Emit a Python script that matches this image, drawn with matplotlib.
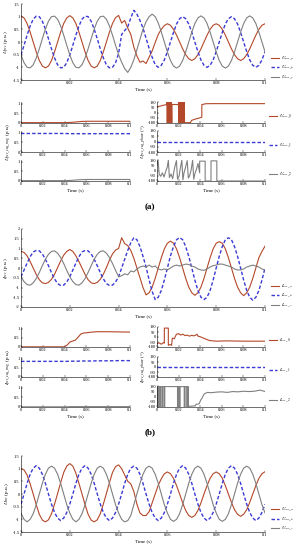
import numpy as np
import matplotlib
matplotlib.use('Agg')
import matplotlib.pyplot as plt
from matplotlib.ticker import FuncFormatter

plt.rcParams['font.family'] = ['Liberation Serif', 'DejaVu Serif']
plt.rcParams['mathtext.fontset'] = 'stix'
plt.rcParams['axes.unicode_minus'] = False

W, H = 299, 550
RED = '#b4482a'
BLUE = '#3a3ad4'
GRAY = '#808080'

# ---- (a) PCC voltage, sampled every 1.25 ms ----
t = np.linspace(0, 0.1, 81)
ua_pcc = [1.03, 0.95, 0.73, 0.39, 0.00, -0.39, -0.73, -0.95, -1.02, -0.95, -0.73, -0.39, 0.00, 0.39, 0.73, 0.95,
          1.04, 0.95, 0.73, 0.39, 0.00, -0.39, -0.73, -0.95, -1.02, -0.95, -0.73, -0.39, 0.00, 0.39, 0.73, 0.96,
          1.05, 0.75, 0.85, 0.55, 0.30, -0.20, -0.55, -0.80, -0.75, -0.85, -0.60, -0.35, -0.02, 0.30, 0.50, 0.65,
          0.72, 0.66, 0.50, 0.27, 0.00, -0.27, -0.50, -0.66, -0.73, -0.66, -0.50, -0.27, 0.00, 0.27, 0.50, 0.66,
          0.72, 0.66, 0.50, 0.27, 0.00, -0.27, -0.50, -0.66, -0.73, -0.66, -0.50, -0.27, 0.00, 0.27, 0.50, 0.66,
          0.72]
ub_pcc = [-0.51, -0.13, 0.27, 0.63, 0.90, 1.02, 1.00, 0.82, 0.51, 0.13, -0.27, -0.63, -0.90, -1.02, -1.00, -0.82,
          -0.51, -0.13, 0.27, 0.63, 0.90, 1.02, 1.00, 0.82, 0.51, 0.13, -0.27, -0.63, -0.90, -1.02, -1.00, -0.82,
          -0.45, 0.30, 0.45, 0.60, 0.95, 1.25, 1.10, 0.85, 0.55, 0.15, -0.25, -0.60, -0.90, -1.00, -0.92, -0.71,
          -0.38, 0.00, 0.38, 0.71, 0.92, 1.00, 0.92, 0.71, 0.38, 0.00, -0.38, -0.71, -0.92, -1.00, -0.92, -0.71,
          -0.38, 0.00, 0.38, 0.71, 0.92, 1.00, 0.92, 0.71, 0.38, 0.00, -0.38, -0.71, -0.92, -1.00, -0.92, -0.71,
          -0.38]
uc_pcc = [-0.51, -0.82, -1.00, -1.02, -0.90, -0.63, -0.27, 0.13, 0.51, 0.82, 1.00, 1.02, 0.90, 0.63, 0.27, -0.13,
          -0.51, -0.82, -1.00, -1.02, -0.90, -0.63, -0.27, 0.13, 0.51, 0.82, 1.00, 1.02, 0.90, 0.63, 0.27, -0.13,
          -0.50, -0.80, -1.05, -1.20, -1.00, -0.70, -0.30, 0.10, 0.50, 0.80, 1.00, 1.10, 1.00, 0.75, 0.40, 0.00,
          -0.39, -0.73, -0.95, -1.03, -0.95, -0.73, -0.39, 0.00, 0.39, 0.73, 0.95, 1.03, 0.95, 0.73, 0.39, 0.00,
          -0.39, -0.73, -0.95, -1.03, -0.95, -0.73, -0.39, 0.00, 0.39, 0.73, 0.95, 1.03, 0.95, 0.73, 0.39, 0.00,
          -0.39]

# sequence magnitudes (a)
seq_t_a = [0, 0.01, 0.02, 0.03, 0.04, 0.045, 0.05, 0.055, 0.06, 0.07, 0.08, 0.09, 0.1]
u0_mag = [0.02, 0.02, 0.02, 0.02, 0.02, 0.03, 0.05, 0.08, 0.09, 0.09, 0.09, 0.09, 0.09]
u1_mag = [0.97, 0.97, 0.97, 0.97, 0.97, 0.96, 0.96, 0.96, 0.96, 0.96, 0.96, 0.96, 0.96]
u2_mag = [0.02, 0.02, 0.02, 0.02, 0.02, 0.03, 0.05, 0.07, 0.08, 0.08, 0.08, 0.08, 0.08]

# sequence phases (a)
u0_ph_t = [0, 0.003, 0.006, 0.009,
           0.0092, 0.0095, 0.0098, 0.0101, 0.0104, 0.0107, 0.0110, 0.0113, 0.0116, 0.0119, 0.0122, 0.0125,
           0.0128, 0.0131, 0.0134, 0.0137,
           0.0138, 0.016, 0.0198,
           0.0200, 0.0203, 0.0206, 0.0209, 0.0212, 0.0215, 0.0218, 0.0221, 0.0224, 0.0227, 0.0230, 0.0233,
           0.0236, 0.0239, 0.0242, 0.0245, 0.0248, 0.0251, 0.0254,
           0.0255, 0.031, 0.032, 0.036, 0.040, 0.0415, 0.0415, 0.045, 0.05, 0.1]
u0_ph = [98, 110, 125, 135,
         180, -180, 180, -180, 180, -180, 180, -180, 180, -180, 180, -180,
         180, -180, 180, -180,
         135, 138, 135,
         180, -180, 180, -180, 180, -180, 180, -180, 180, -180, 180, -180,
         180, -180, 180, -180, 180, -180, 180,
         -176, -172, -135, -110, -90, -80, 135, 150, 152, 152]
u1_ph_t = [0, 0.1]
u1_ph = [0, 0]
u2_ph_t = [0, 0.001, 0.002, 0.0035, 0.005, 0.0065, 0.008, 0.0095, 0.0105, 0.0115, 0.013, 0.0145, 0.016,
           0.017, 0.018, 0.019, 0.0205, 0.0215, 0.023, 0.024, 0.025, 0.0265, 0.028, 0.029, 0.030, 0.0315,
           0.033, 0.034, 0.035, 0.0365, 0.038, 0.0395, 0.0395, 0.0446, 0.0446, 0.050, 0.050, 0.0554, 0.0554, 0.1]
u2_ph = [120, 170, -60, -100, -40, -110, -20, 60, 175, -120, -60, -140, 20,
         100, 170, -150, -90, 30, 175, -160, -40, 60, 170, -130, -100, 0,
         175, -150, -60, 20, 120, -40, 160, 160, -180, -180, 165, 165, -180, -180]

# ---- (b) PCC current ----
ia_pcc = [0.85, 0.80, 0.62, 0.33, 0.00, -0.33, -0.60, -0.76, -0.80, -0.74, -0.58, -0.32, 0.02, 0.36, 0.66, 0.85,
          0.95, 0.85, 0.62, 0.33, 0.00, -0.33, -0.60, -0.76, -0.80, -0.74, -0.58, -0.32, 0.02, 0.40, 0.72, 0.92,
          1.00, 1.55, 1.25, 1.15, 0.90, 0.50, 0.00, -0.50, -1.00, -1.38, -1.27, -0.98, -0.53, 0.00, 0.53, 0.98,
          1.27, 1.38, 1.27, 0.98, 0.53, 0.00, -0.53, -0.98, -1.27, -1.40, -1.27, -0.98, -0.53, 0.00, 0.53, 0.98,
          1.27, 1.35, 1.27, 0.98, 0.53, 0.00, -0.53, -0.98, -1.27, -1.42, -1.27, -0.98, -0.53, 0.00, 0.53, 0.85,
          1.12]
ib_pcc = [-0.45, -0.10, 0.25, 0.58, 0.82, 0.90, 0.88, 0.72, 0.45, 0.12, -0.24, -0.56, -0.80, -0.90, -0.88, -0.72,
          -0.45, -0.10, 0.25, 0.58, 0.82, 0.90, 0.88, 0.72, 0.45, 0.12, -0.24, -0.56, -0.80, -0.90, -0.88, -0.72,
          -0.45, 0.00, 0.45, 0.90, 1.30, 1.55, 1.45, 1.10, 0.60, 0.05, -0.60, -1.20, -1.62, -1.50, -1.15, -0.62,
          0.00, 0.62, 1.10, 1.45, 1.56, 1.45, 1.10, 0.60, 0.00, -0.62, -1.15, -1.50, -1.62, -1.50, -1.15, -0.62,
          0.00, 0.60, 1.10, 1.45, 1.55, 1.45, 1.10, 0.60, 0.00, -0.62, -1.15, -1.50, -1.65, -1.50, -1.15, -0.62,
          0.00]
ic_pcc = [-0.45, -0.70, -0.85, -0.88, -0.76, -0.54, -0.23, 0.12, 0.45, 0.70, 0.85, 0.88, 0.76, 0.54, 0.23, -0.12,
          -0.45, -0.70, -0.85, -0.88, -0.76, -0.54, -0.23, 0.12, 0.45, 0.70, 0.85, 0.88, 0.76, 0.54, 0.23, -0.12,
          -0.45, -0.40, -0.30, -0.35, -0.15, -0.20, -0.05, 0.05, 0.10, 0.05, 0.15, 0.05, 0.10, -0.05, -0.10, -0.05,
          -0.10, 0.00, 0.10, 0.15, 0.10, 0.15, 0.20, 0.18, 0.10, 0.05, -0.05, -0.10, -0.12, -0.05, 0.05, 0.12,
          0.15, 0.20, 0.20, 0.15, 0.10, 0.05, -0.05, -0.10, -0.10, -0.05, 0.05, 0.10, 0.15, 0.10, 0.05, -0.05,
          -0.10]

seq_t_b = [0, 0.01, 0.02, 0.03, 0.04, 0.0425, 0.045, 0.0475, 0.05, 0.0525, 0.055, 0.0575, 0.06, 0.065, 0.07,
           0.08, 0.09, 0.1]
i0_mag = [0.01, 0.01, 0.01, 0.01, 0.01, 0.12, 0.28, 0.33, 0.38, 0.55, 0.72, 0.77, 0.78, 0.82, 0.84, 0.84, 0.83, 0.82]
i1_mag = [0.86, 0.86, 0.86, 0.86, 0.86, 0.86, 0.87, 0.87, 0.87, 0.87, 0.88, 0.88, 0.88, 0.88, 0.89, 0.89, 0.90, 0.90]
i2_mag = [0.01, 0.01, 0.01, 0.01, 0.01, 0.01, 0.02, 0.02, 0.02, 0.02, 0.02, 0.02, 0.02, 0.02, 0.02, 0.02, 0.02, 0.02]

i0_ph_t = [0, 0.002, 0.004, 0.006, 0.0068, 0.0068, 0.0105, 0.0105, 0.012, 0.0135, 0.0142, 0.016, 0.018, 0.020,
           0.022, 0.024, 0.026, 0.028, 0.030, 0.032, 0.034, 0.036, 0.037, 0.038, 0.040, 0.043, 0.046, 0.049,
           0.055, 0.065, 0.08, 0.1]
i0_ph = [-120, -105, -130, -100, -110, 160, 160, -150, -135, -150, -20, -30, 50, 60,
         35, 50, 25, 35, 15, 30, 20, 35, 50, 15, 5, -20, -45, -65,
         -75, -70, -75, -75]
i1_ph_t = [0, 0.1]
i1_ph = [0, 0]
i2_ph_t = [0, 0.0005, 0.0005, 0.0012, 0.0012, 0.0025, 0.0025, 0.0032, 0.0032, 0.0045, 0.0045, 0.0052, 0.0052,
           0.0065, 0.0065, 0.0072, 0.0072, 0.019, 0.019, 0.0198, 0.0198, 0.0206, 0.0206, 0.0214, 0.0214,
           0.0252, 0.0252, 0.026, 0.026, 0.0275, 0.0275, 0.0283, 0.0283, 0.029, 0.029, 0.0355, 0.036, 0.039,
           0.0405, 0.042, 0.0435, 0.0465, 0.05, 0.055, 0.06, 0.065, 0.07, 0.075, 0.08, 0.085, 0.09, 0.0955, 0.1]
i2_ph = [170, 170, -180, -180, 170, 170, -180, -180, 170, 170, -180, -180,
         170, 170, -180, -180, 170, 170, -180, -180, 170, 170, -180, -180,
         170, 170, -180, -180, 170, 170, -180, -180, 170, 170, -170, -160, -135, -125,
         -60, -20, 40, 70, 65, 75, 80, 70, 85, 80, 90, 85, 90, 110, 85]

# ---- (c) inverter voltage ----
ua_inv = [1.00, 0.95, 0.75, 0.40, 0.00, -0.42, -0.80, -1.03, -1.10, -1.02, -0.78, -0.40, 0.02, 0.45, 0.85, 1.10,
          1.20, 1.10, 0.82, 0.42, 0.00, -0.42, -0.80, -1.03, -1.10, -1.02, -0.78, -0.40, 0.02, 0.45, 0.85, 1.08,
          1.15, 1.00, 0.75, 0.50, 0.40, 0.10, -0.40, -0.75, -0.85, -0.85, -0.70, -0.35, 0.00, 0.35, 0.60, 0.80,
          0.87, 0.80, 0.62, 0.33, 0.00, -0.35, -0.65, -0.85, -0.92, -0.85, -0.65, -0.35, 0.00, 0.33, 0.62, 0.80,
          0.87, 0.80, 0.62, 0.33, 0.00, -0.33, -0.62, -0.80, -0.88, -0.80, -0.62, -0.33, 0.00, 0.33, 0.62, 0.80,
          0.88]
ub_inv = [-0.40, 0.00, 0.42, 0.78, 1.02, 1.12, 1.02, 0.78, 0.42, 0.00, -0.40, -0.73, -0.95, -1.05, -0.95, -0.73,
          -0.40, 0.00, 0.42, 0.78, 1.02, 1.12, 1.02, 0.78, 0.42, 0.00, -0.40, -0.73, -0.95, -1.05, -0.95, -0.73,
          -0.40, 0.00, 0.42, 0.78, 1.02, 1.10, 1.02, 0.78, 0.42, 0.00, -0.40, -0.73, -0.95, -1.05, -0.95, -0.73,
          -0.40, 0.00, 0.42, 0.78, 1.02, 1.12, 1.02, 0.78, 0.42, 0.00, -0.40, -0.73, -0.95, -1.05, -0.95, -0.73,
          -0.40, 0.00, 0.42, 0.78, 1.02, 1.12, 1.02, 0.78, 0.42, 0.00, -0.40, -0.73, -0.95, -1.05, -0.95, -0.73,
          -0.40]
uc_inv = [-0.75, -1.00, -1.10, -1.00, -0.78, -0.42, 0.00, 0.42, 0.78, 1.02, 1.10, 1.02, 0.78, 0.42, 0.00, -0.42,
          -0.75, -1.00, -1.10, -1.00, -0.78, -0.42, 0.00, 0.42, 0.78, 1.02, 1.10, 1.02, 0.78, 0.42, 0.00, -0.42,
          -0.75, -1.00, -1.10, -1.05, -0.85, -0.42, 0.00, 0.42, 0.78, 1.02, 1.10, 1.02, 0.78, 0.42, 0.00, -0.42,
          -0.75, -1.00, -1.08, -1.00, -0.78, -0.42, 0.00, 0.42, 0.78, 1.02, 1.10, 1.02, 0.78, 0.42, 0.00, -0.42,
          -0.75, -1.00, -1.08, -1.00, -0.78, -0.42, 0.00, 0.42, 0.78, 1.02, 1.10, 1.02, 0.78, 0.42, 0.00, -0.42,
          -0.75]

time_ticks = [0, 0.02, 0.04, 0.06, 0.08, 0.1]
fmt = FuncFormatter(lambda v, p: f'{v:g}')
DASH = (0, (2.5, 1.5))

fig = plt.figure(figsize=(W / 100, H / 100), dpi=100)


def add_ax(l, top, w, h):
    ax = fig.add_axes([l / W, 1 - (top + h) / H, w / W, h / H])
    ax.spines['top'].set_visible(False)
    ax.spines['right'].set_visible(False)
    ax.spines['left'].set_linewidth(0.4)
    ax.spines['bottom'].set_linewidth(0.4)
    ax.tick_params(labelsize=3.2, length=1.2, width=0.3, pad=1, direction='in')
    ax.set_xlim(0, 0.1)
    ax.set_xticks(time_ticks)
    ax.xaxis.set_major_formatter(fmt)
    ax.yaxis.set_major_formatter(fmt)
    return ax


def wave_plot(top, h, ya, yb, yc, labels, ylabel, ylim, yticks, leg_y):
    ax = add_ax(21, top, 244, h)
    ax.plot(t, ya, color=RED, lw=0.8, label=labels[0])
    ax.plot(t, yb, color=BLUE, lw=1.0, ls=DASH, label=labels[1])
    ax.plot(t, yc, color=GRAY, lw=0.8, label=labels[2])
    ax.set_ylim(*ylim)
    ax.set_yticks(yticks)
    ax.set_ylabel(ylabel, fontsize=3.8, labelpad=1)
    ax.set_xlabel('Time (s)', fontsize=3.5, labelpad=1)
    ax.legend(loc='upper left', bbox_to_anchor=(1.015, leg_y), borderaxespad=0, frameon=False,
              fontsize=3.5, handlelength=1.8, handletextpad=0.3, labelspacing=0.3)
    return ax


def seq_grid(tops, hs, mag_t, mags, ph_ts, phs, labels, mag_label, ph_label):
    colors = [RED, BLUE, GRAY]
    for k in range(3):
        ls = DASH if k == 1 else '-'
        lw = 1.0 if k == 1 else 0.8
        axm = add_ax(21, tops[k], 109, hs[k])
        axm.plot(mag_t, mags[k], color=colors[k], lw=lw, ls=ls)
        axm.set_ylim(0, 1.1)
        axm.set_yticks([0, 0.5, 1])
        axp = add_ax(157, tops[k], 108, hs[k])
        axp.plot(ph_ts[k], phs[k], color=colors[k], lw=lw, ls=ls, label=labels[k])
        axp.set_ylim(-180, 180)
        axp.set_yticks([-180, -90, 0, 90, 180])
        axp.legend(loc='center left', bbox_to_anchor=(1.015, 0.3), borderaxespad=0, frameon=False,
                   fontsize=3.5, handlelength=1.8, handletextpad=0.3)
        if k == 1:
            axm.set_ylabel(mag_label, fontsize=3.8, labelpad=1)
            axp.set_ylabel(ph_label, fontsize=3.8, labelpad=0)
        if k == 2:
            axm.set_xlabel('Time (s)', fontsize=3.5, labelpad=1)
            axp.set_xlabel('Time (s)', fontsize=3.5, labelpad=1)


# (a)
wave_plot(4, 76, ua_pcc, ub_pcc, uc_pcc,
          [r'$U_{pcc\_a}$', r'$U_{pcc\_b}$', r'$U_{pcc\_c}$'],
          r'$U_{pcc}$ (p.u.)', (-1.5, 1.5), [-1.5, -1, -0.5, 0, 0.5, 1, 1.5], 0.36)
seq_grid([102, 131, 160], [21, 21, 21], seq_t_a, [u0_mag, u1_mag, u2_mag],
         [u0_ph_t, u1_ph_t, u2_ph_t], [u0_ph, u1_ph, u2_ph],
         [r'$U_{pcc\_0}$', r'$U_{pcc\_1}$', r'$U_{pcc\_2}$'],
         r'$U_{pcc\_seq\_mag}$ (p.u.)', r'$U_{pcc\_seq\_phase}$ (°)')
fig.text(150 / W, 1 - 207 / H, '(a)', ha='center', va='center', fontsize=6.5, fontweight='bold')

# (b)
wave_plot(229, 78, ia_pcc, ib_pcc, ic_pcc,
          [r'$I_{pcc\_a}$', r'$I_{pcc\_b}$', r'$I_{pcc\_c}$'],
          r'$I_{pcc}$ (p.u.)', (-2, 2), [-2, -1.5, -1, -0.5, 0, 0.5, 1, 1.5, 2], 0.34)
seq_grid([327, 357, 386], [20, 20, 21], seq_t_b, [i0_mag, i1_mag, i2_mag],
         [i0_ph_t, i1_ph_t, i2_ph_t], [i0_ph, i1_ph, i2_ph],
         [r'$I_{pcc\_0}$', r'$I_{pcc\_1}$', r'$I_{pcc\_2}$'],
         r'$I_{pcc\_seq\_mag}$ (p.u.)', r'$I_{pcc\_seq\_phase}$ (°)')
fig.text(150 / W, 1 - 432 / H, '(b)', ha='center', va='center', fontsize=6.5, fontweight='bold')

# (c)
wave_plot(456, 76, ua_inv, ub_inv, uc_inv,
          [r'$U_{inv\_a}$', r'$U_{inv\_b}$', r'$U_{inv\_c}$'],
          r'$U_{inv}$ (p.u.)', (-1.5, 1.5), [-1.5, -1, -0.5, 0, 0.5, 1, 1.5], 0.37)

fig.savefig('out.png', dpi=100)
